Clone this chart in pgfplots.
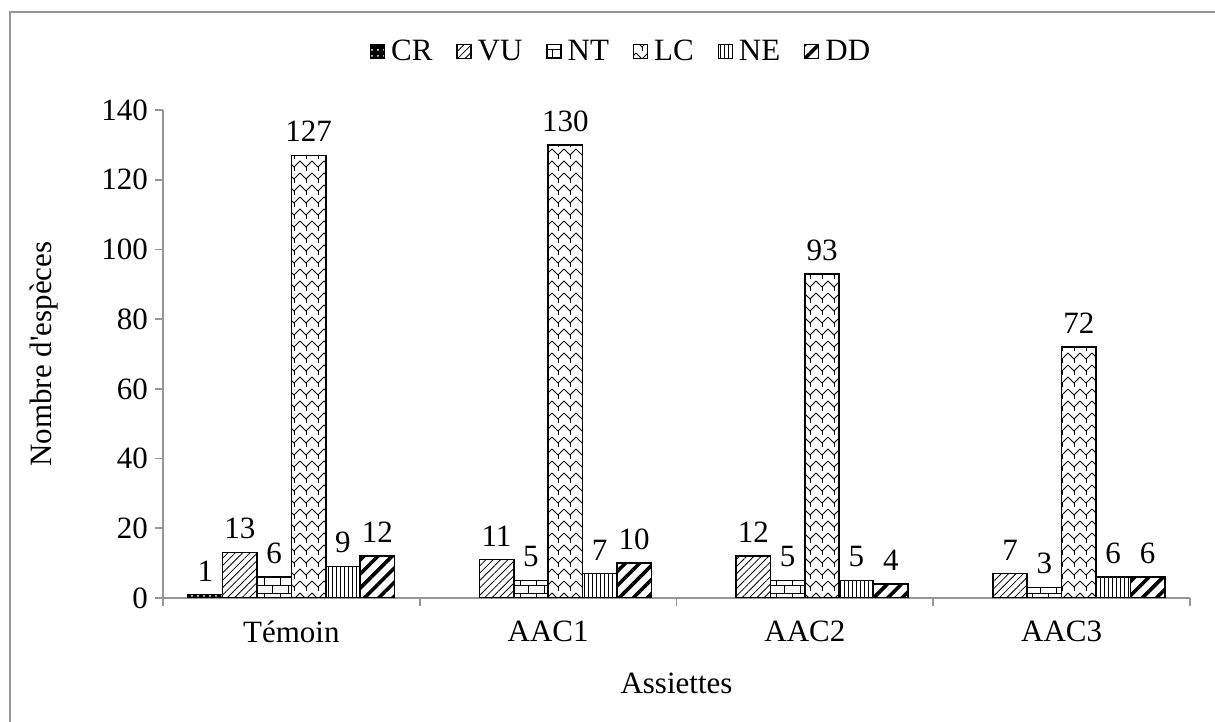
\documentclass[border=0pt]{standalone}
\usepackage{fontspec}
\setmainfont{Liberation Serif}[Ligatures=TeXOff]
\usepackage{pgfplots}
\pgfplotsset{compat=1.18}
\usetikzlibrary{patterns,patterns.meta}
\tikzdeclarepattern{
  name=zigzag,
  type=uncolored,
  bounding box={(-0.5pt,-0.5pt) and (6.5pt,6.5pt)},
  tile size={(6pt,6pt)},
  code={\draw[line width=0.5pt] (0pt,4.5pt) -- (3pt,1.5pt) -- (6pt,4.5pt);
        \draw[line width=0.5pt] (3pt,1.5pt) -- (3pt,-0.5pt);}
}
\tikzdeclarepattern{
  name=smallbricks,
  type=uncolored,
  bounding box={(-0.5pt,-0.5pt) and (8.5pt,8.5pt)},
  tile size={(8pt,8pt)},
  code={\draw[line width=0.5pt] (-0.5pt,0pt) -- (8.5pt,0pt);
        \draw[line width=0.5pt] (-0.5pt,4pt) -- (8.5pt,4pt);
        \draw[line width=0.5pt] (0pt,0pt) -- (0pt,4pt);
        \draw[line width=0.5pt] (4pt,4pt) -- (4pt,8pt);}
}
\definecolor{axgray}{RGB}{150,150,150}
\begin{document}
\begin{tikzpicture}
\useasboundingbox (-81.5pt,-62pt) rectangle (526pt,299pt);
\draw[axgray, line width=1.2pt] (-76.5pt,-80pt) -- (-76.5pt,293pt) -- (560pt,293pt);
\begin{axis}[
  at={(0pt,0pt)}, anchor=south west,
  scale only axis, width=513.5pt, height=244pt,
  ybar=0pt, bar width=17.2pt,
  xmin=-0.5, xmax=3.5, ymin=0, ymax=140,
  axis x line*=bottom, axis y line*=left,
  axis line style={axgray, line width=0.8pt},
  xtick={0,1,2,3}, xticklabels={Témoin,AAC1,AAC2,AAC3},
  major x tick style={draw=none},
  minor xtick={-0.5,0.5,1.5,2.5,3.5},
  minor x tick style={axgray, line width=0.8pt},
  minor tick length=4pt,
  ytick={0,20,...,140},
  y tick style={axgray, line width=0.8pt},
  major tick length=4pt,
  tick align=outside,
  ticklabel style={font=\fontsize{15.5}{18}\selectfont},
  /pgf/number format/assume math mode=true,
  xticklabel style={yshift=-4pt},
  xlabel={Assiettes}, ylabel={Nombre d'espèces},
  label style={font=\fontsize{15.5}{18}\selectfont},
  xlabel style={yshift=-8pt},
  ylabel style={yshift=15pt},
  nodes near coords,
  nodes near coords style={font=\fontsize{15.5}{18}\selectfont, black, yshift=3pt},
  every node near coord/.append style={/pgf/number format/assume math mode=true},
  legend columns=6,
  legend style={at={(0.447,1.12)}, anchor=center, draw=none, fill=none,
     font=\fontsize{15.5}{18}\selectfont, /tikz/every even column/.append style={column sep=10pt},
     /tikz/every odd column/.append style={column sep=1pt}},
  legend image code/.code={\draw[#1,line width=0.6pt] (0pt,-3.5pt) rectangle (7pt,3.5pt);},
  every axis plot/.append style={draw=black, line width=0.8pt},
]
\addplot[fill=black, postaction={pattern={Dots[distance=3pt,radius=0.5pt]}, pattern color=white}] coordinates {(0,1)};
\addplot[pattern={Lines[angle=45,distance=2.6pt,line width=0.4pt]}] coordinates {(0,13) (1,11) (2,12) (3,7)};
\addplot[pattern=smallbricks] coordinates {(0,6) (1,5) (2,5) (3,3)};
\addplot[pattern=zigzag] coordinates {(0,127) (1,130) (2,93) (3,72)};
\addplot[pattern={Lines[angle=90,distance=2pt,line width=0.5pt]}] coordinates {(0,9) (1,7) (2,5) (3,6)};
\addplot[pattern={Lines[angle=45,distance=5pt,line width=1.8pt]}] coordinates {(0,12) (1,10) (2,4) (3,6)};
\legend{CR,VU,NT,LC,NE,DD}
\end{axis}
\end{tikzpicture}
\end{document}
